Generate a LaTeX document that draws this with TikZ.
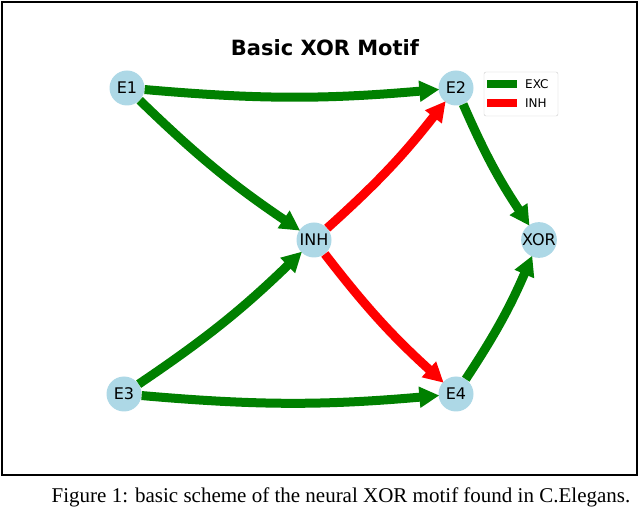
\documentclass[tikz,border=0pt]{standalone}
\usepackage{fontspec}
\setmainfont{Liberation Serif}
\newfontfamily\dvs{DejaVu Sans}
\usetikzlibrary{arrows.meta}
\definecolor{exc}{RGB}{0,128,0}
\definecolor{inh}{RGB}{255,0,0}
\definecolor{nodeblue}{RGB}{173,216,230}
\begin{document}
\begin{tikzpicture}[x=1pt,y=-1pt,
  nd/.style={circle,fill=nodeblue,minimum size=35pt,inner sep=0pt,font=\dvs\fontsize{16}{18}\selectfont},
  ed/.style={line width=9pt,-{Triangle[length=20pt,width=20pt]},shorten >=-1pt,bend right=5},
  ex/.style={ed,draw=exc,color=exc},
  ih/.style={ed,draw=inh,color=inh}]
\useasboundingbox (0,0) rectangle (640,510);
\draw[line width=1.3pt] (2,2) rectangle (637,475);
\node[font=\dvs\bfseries\fontsize{21}{24}\selectfont] (title) at (325,48) {Basic XOR Motif};
\node[nd] (E1) at (127,88) {E1};
\node[nd] (E2) at (456,88) {E2};
\node[nd] (INH) at (314,240) {INH};
\node[nd] (XOR) at (539,240) {XOR};
\node[nd] (E3) at (124,394) {E3};
\node[nd] (E4) at (456,394) {E4};
\draw[ex] (E1) to (E2);
\draw[ex] (E1) to (INH);
\draw[ex] (E3) to (INH);
\draw[ex] (E3) to (E4);
\draw[ih] (INH) to (E2);
\draw[ih] (INH) to (E4);
\draw[ex] (E2) to (XOR);
\draw[ex] (E4) to (XOR);
\draw[rounded corners=2pt,draw=black!20,fill=white] (484,72) rectangle (558,116);
\draw[exc,line width=8pt] (487,84) -- (517,84);
\draw[inh,line width=8pt] (487,103) -- (517,103);
\node[anchor=west,inner sep=0pt,font=\dvs\fontsize{12}{13}\selectfont] (l1) at (525,84) {EXC};
\node[anchor=west,inner sep=0pt,font=\dvs\fontsize{12}{13}\selectfont] (l2) at (525,103) {INH};
\node[font=\fontsize{21}{24}\selectfont] (cap) at (341,497) {Figure 1: basic scheme of the neural XOR motif found in C.Elegans.};
\end{tikzpicture}
\end{document}
